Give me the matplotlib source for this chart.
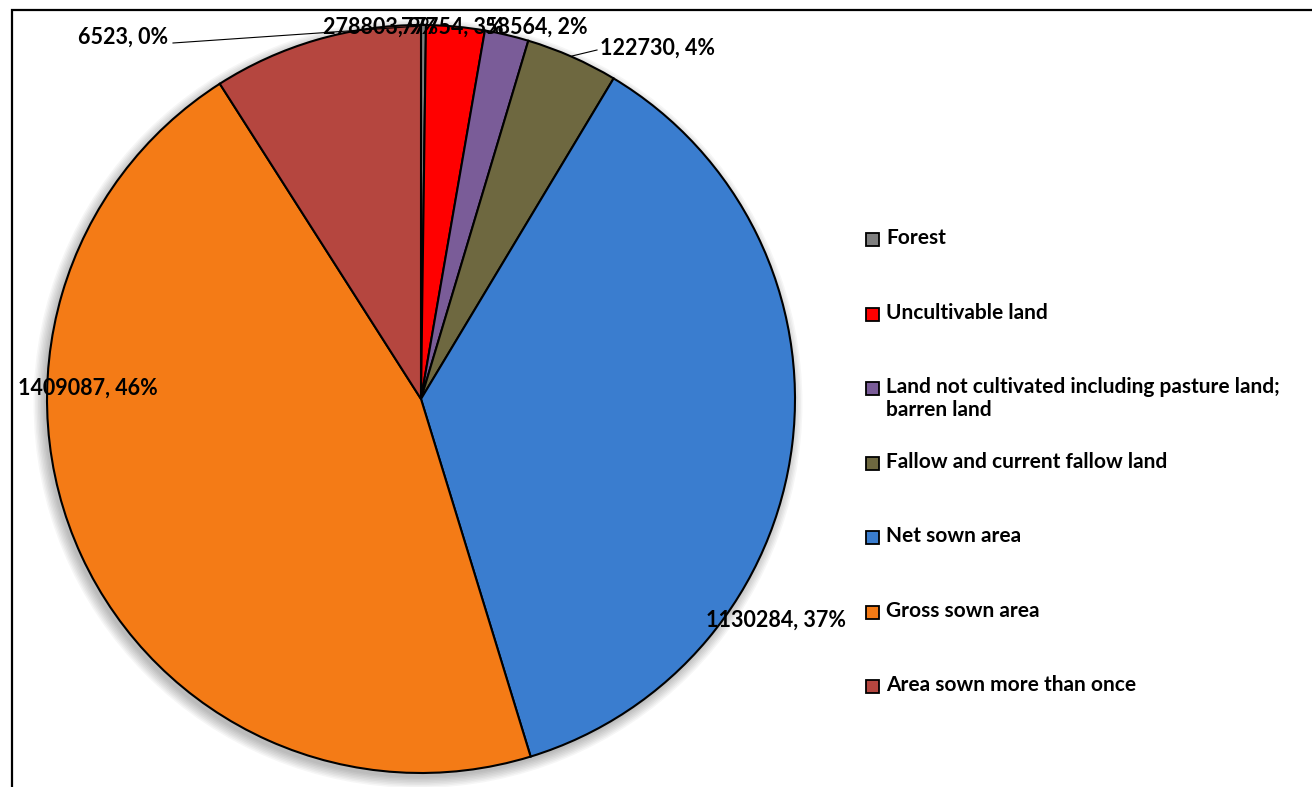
import matplotlib
matplotlib.use("Agg")
from matplotlib import pyplot as plt
from matplotlib.patches import Rectangle, Circle

categories = ["Forest", "Uncultivable land",
              "Land not cultivated including pasture land;\nbarren land",
              "Fallow and current fallow land", "Net sown area",
              "Gross sown area", "Area sown more than once"]
values = [6523, 77754, 58564, 122730, 1130284, 1409087, 278803]
colors = ["#7f7f7f", "#ff0000", "#7a5c98", "#6e6840",
          "#3a7dcf", "#f47b16", "#b5463f"]

W, H = 1312, 787
cx, cy, R = 421, 399, 374  # pie centre / radius in pixels

plt.rcParams['font.family'] = ['Lato', 'DejaVu Sans']
fig = plt.figure(figsize=(W / 100, H / 100), dpi=100)
ax = fig.add_axes([0, 0, 1, 1])


def px(x, y):
    return (x - cx) / R, (cy - y) / R


# soft shadow under the pie
for k in range(8):
    ax.add_patch(Circle((-0.008, -0.012), 1.0 + 0.004 * k, color='black',
                        alpha=0.035, lw=0, zorder=0))

wedges, _ = ax.pie(values, colors=colors, startangle=90, counterclock=False,
                   radius=1.0, center=(0, 0), frame=True,
                   wedgeprops=dict(edgecolor='black', linewidth=1.5))
ax.set_xlim(-cx / R, (W - cx) / R)
ax.set_ylim(-(H - cy) / R, cy / R)
ax.set_aspect('auto')
ax.axis('off')

total = sum(values)
labels = ["{}, {:.0f}%".format(v, 100. * v / total) for v in values]

# label anchors (pixels, x / vertical centre, horizontal alignment)
label_pos = [(78, 37, 'left'), (401, 27, 'left'), (588, 27, 'right'),
             (600, 48, 'left'), (706, 620, 'left'), (18, 388, 'left'),
             (323, 27, 'left')]
order = [6, 0, 1, 2, 3, 4, 5]
for i in order:
    x, y = px(label_pos[i][0], label_pos[i][1])
    ax.text(x, y, labels[i], fontsize=15.5, fontweight='bold',
            ha=label_pos[i][2], va='center', zorder=5)

# leader lines
ax.plot(*zip(px(173, 43), px(421, 26)), color='black', lw=0.8, zorder=4)
ax.plot(*zip(px(597, 50), px(572, 56)), color='black', lw=0.8, zorder=4)

# legend drawn by hand to keep Excel-like spacing
for i, (name, col) in enumerate(zip(categories, colors)):
    ly = 239 + 74.5 * i
    x0, y0 = px(866, ly + 7)
    ax.add_patch(Rectangle((x0, y0), 13 / R, 13 / R, facecolor=col,
                           edgecolor='black', lw=1.3, zorder=5))
    tx, ty = px(886, ly - 11)
    ax.text(tx, ty, name, fontsize=15, fontweight='bold', ha='left',
            va='top', linespacing=1.2, zorder=5)

# chart border (left/top visible, right/bottom cut off)
fig.patches.append(Rectangle((12 / W, -0.05), 1.2, 1 - 10 / H + 0.05,
                             transform=fig.transFigure, fill=False,
                             edgecolor='black', lw=1.6))

fig.savefig("out.png", dpi=100)
plt.close()
